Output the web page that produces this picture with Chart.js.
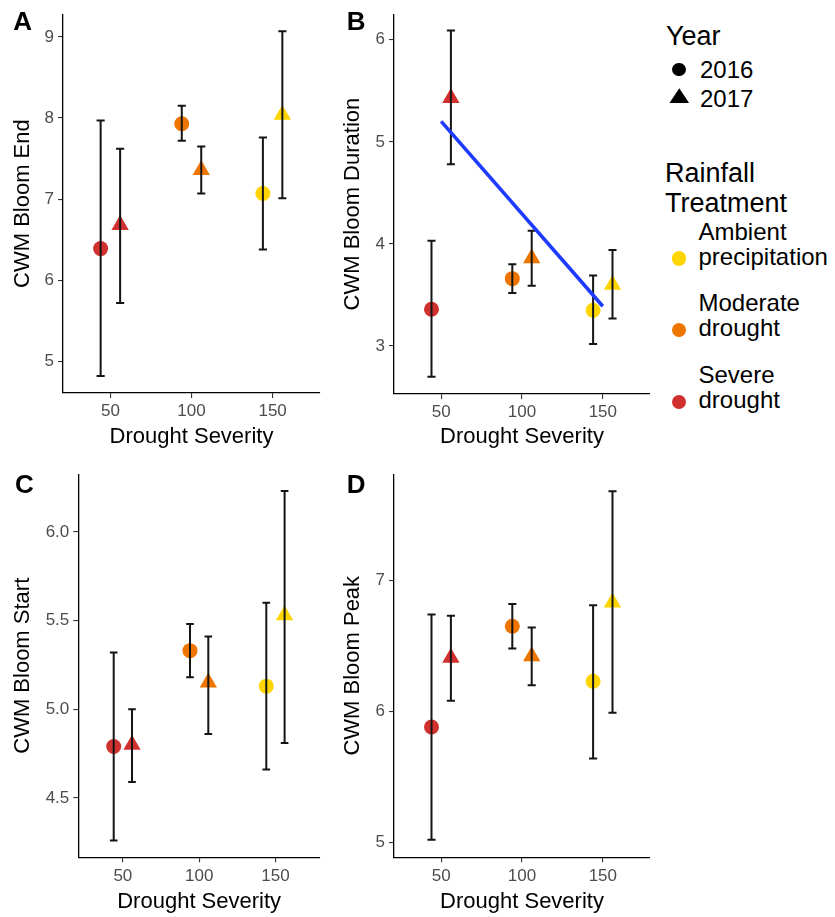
<!DOCTYPE html>
<html>
<head>
<meta charset="utf-8">
<script src="https://cdn.jsdelivr.net/npm/chart.js@4/dist/chart.umd.min.js"></script>
<style>
  html, body { margin: 0; padding: 0; background: #fff; }
  #wrap { position: relative; width: 835px; height: 917px; overflow: hidden;
          font-family: "Liberation Sans", Arial, Helvetica, sans-serif; }
  .panel { position: absolute; }
  .panel canvas { display: block; }
  .lbl { position: absolute; white-space: nowrap; line-height: 1; color: #000; }
  .sym { position: absolute; }
</style>
</head>
<body>
<div id="wrap">
  <div class="panel" style="left:0;top:0"><canvas id="cEnd" width="330" height="460"></canvas></div>
  <div class="panel" style="left:330px;top:0"><canvas id="cDuration" width="330" height="460"></canvas></div>
  <div class="panel" style="left:0;top:460px"><canvas id="cStart" width="330" height="457"></canvas></div>
  <div class="panel" style="left:330px;top:460px"><canvas id="cPeak" width="330" height="457"></canvas></div>
</div>
<script>
// Treatment groups: drought severity (2016 dodged left, 2017 dodged right)
const severity  = [44, 56, 94, 106, 144, 156];
const treatment = ['Severe drought', 'Severe drought', 'Moderate drought', 'Moderate drought',
                   'Ambient precipitation', 'Ambient precipitation'];
const year      = ['2016', '2017', '2016', '2017', '2016', '2017'];
const severityTicks = [50, 100, 150];

// Community-weighted mean bloom end (mean, lower and upper error)
const endMean = [6.39, 6.68, 7.93, 7.36, 7.07, 8.04];
const endLow  = [4.82, 5.72, 7.72, 7.07, 6.38, 7.01];
const endHigh = [7.97, 7.62, 8.15, 7.65, 7.76, 9.07];
const endTicks = [5, 6, 7, 8, 9];

// Bloom duration
const durationMean = [3.36, 5.43, 3.66, 3.86, 3.35, 3.60];
const durationLow  = [2.70, 4.78, 3.52, 3.59, 3.02, 3.27];
const durationHigh = [4.03, 6.09, 3.80, 4.13, 3.69, 3.94];
const durationTicks = [3, 4, 5, 6];
// Linear trend of duration on severity
const trendSeverity = [50, 150];
const trendDuration = [5.20, 3.39];

// Bloom start
const startMean = [4.79, 4.80, 5.33, 5.15, 5.13, 5.53];
const startLow  = [4.26, 4.59, 5.18, 4.86, 4.66, 4.81];
const startHigh = [5.32, 5.00, 5.48, 5.41, 5.60, 6.23];
const startTicks = [4.5, 5.0, 5.5, 6.0];

// Bloom peak
const peakMean = [5.88, 6.41, 6.65, 6.42, 6.23, 6.83];
const peakLow  = [5.02, 6.08, 6.48, 6.20, 5.64, 5.99];
const peakHigh = [6.74, 6.73, 6.82, 6.64, 6.81, 7.68];
const peakTicks = [5, 6, 7];

// Legend entries
const yearLegend = ['2016', '2017'];
const treatmentLegend = [['Ambient', 'precipitation'], ['Moderate', 'drought'], ['Severe', 'drought']];
const treatmentOrder = ['Ambient precipitation', 'Moderate drought', 'Severe drought'];

// Styles
const FONT = '"Liberation Sans", Arial, Helvetica, sans-serif';
const colours = {
  'Ambient precipitation': '#FFD500',
  'Moderate drought': '#EE7600',
  'Severe drought': '#D0302E'
};
const shapes = { '2016': 'circle', '2017': 'triangle' };
const radii  = { '2016': 7.5, '2017': 10 };
const CAP_HALF = 2.5;   // error-bar cap half width, in severity units

const errorBars = {
  id: 'errorBars',
  afterDatasetDraw(chart, args) {
    const ds = chart.data.datasets[args.index];
    if (!ds.errLow) return;
    const ctx = chart.ctx, xs = chart.scales.x, ys = chart.scales.y;
    ctx.save();
    ctx.strokeStyle = '#141414';
    ctx.lineWidth = 2;
    ds.data.forEach((p, i) => {
      const x = xs.getPixelForValue(p.x);
      const x0 = xs.getPixelForValue(p.x - CAP_HALF);
      const x1 = xs.getPixelForValue(p.x + CAP_HALF);
      const yl = ys.getPixelForValue(ds.errLow[i]);
      const yh = ys.getPixelForValue(ds.errHigh[i]);
      ctx.beginPath();
      ctx.moveTo(x, yl); ctx.lineTo(x, yh);
      ctx.moveTo(x0, yl); ctx.lineTo(x1, yl);
      ctx.moveTo(x0, yh); ctx.lineTo(x1, yh);
      ctx.stroke();
    });
    ctx.restore();
  }
};

function makePanel(id, cfg) {
  const datasets = [{
    type: 'scatter',
    order: 2,
    data: severity.map((s, i) => ({ x: s, y: cfg.mean[i] })),
    errLow: cfg.low,
    errHigh: cfg.high,
    pointStyle: year.map(y => shapes[y]),
    pointRadius: year.map(y => radii[y]),
    backgroundColor: treatment.map(t => colours[t]),
    borderWidth: 0,
    borderColor: 'rgba(0,0,0,0)'
  }];
  if (cfg.trendX) {
    datasets.push({
      type: 'line',
      order: 1,
      data: cfg.trendX.map((x, i) => ({ x: x, y: cfg.trendY[i] })),
      borderColor: '#1F3BFF',
      borderWidth: 3.6,
      pointRadius: 0,
      fill: false,
      tension: 0
    });
  }
  const tickFont = { family: FONT, size: 17 };
  const titleFont = { family: FONT, size: 22 };
  new Chart(document.getElementById(id), {
    data: { datasets },
    plugins: [errorBars],
    options: {
      responsive: false,
      animation: false,
      events: [],
      layout: { padding: cfg.pad },
      plugins: { legend: { display: false }, tooltip: { enabled: false } },
      scales: {
        x: {
          type: 'linear',
          min: 20.8, max: 179.2,
          afterBuildTicks: s => { s.ticks = severityTicks.map(v => ({ value: v })); },
          afterFit: s => { s.height = cfg.xHeight; },
          grid: { display: true, drawOnChartArea: false, drawTicks: true, tickLength: 5,
                  color: '#333333', lineWidth: 1.1 },
          border: { display: true, color: '#000', width: 1.3 },
          ticks: { color: '#4D4D4D', font: tickFont, padding: 3.5, maxRotation: 0, autoSkip: false },
          title: { display: true, text: 'Drought Severity', color: '#000', font: titleFont,
                   padding: { top: 0, bottom: cfg.xTitlePad } }
        },
        y: {
          type: 'linear',
          min: cfg.yMin, max: cfg.yMax,
          afterBuildTicks: s => { s.ticks = cfg.ticks.map(v => ({ value: v })); },
          afterFit: s => { s.width = cfg.yWidth; },
          grid: { display: true, drawOnChartArea: false, drawTicks: true, tickLength: 5,
                  color: '#333333', lineWidth: 1.1 },
          border: { display: true, color: '#000', width: 1.3 },
          ticks: { color: '#4D4D4D', font: tickFont, padding: 4, autoSkip: false,
                   callback: v => v.toFixed(cfg.decimals) },
          title: { display: true, text: cfg.title, color: '#000', font: titleFont,
                   padding: { top: 9.8, bottom: 0 } }
        }
      }
    }
  });
}

makePanel('cEnd', {
  mean: endMean, low: endLow, high: endHigh, ticks: endTicks, decimals: 0,
  yMin: 4.61, yMax: 9.28, title: 'CWM Bloom End',
  pad: { left: 0, top: 10, right: 8, bottom: 0 }, yWidth: 63, xHeight: 67, xTitlePad: 9.4
});
makePanel('cDuration', {
  mean: durationMean, low: durationLow, high: durationHigh, ticks: durationTicks, decimals: 0,
  trendX: trendSeverity, trendY: trendDuration,
  yMin: 2.53, yMax: 6.25, title: 'CWM Bloom Duration',
  pad: { left: 0, top: 10, right: 7, bottom: 0 }, yWidth: 64, xHeight: 66, xTitlePad: 9.4
});
makePanel('cStart', {
  mean: startMean, low: startLow, high: startHigh, ticks: startTicks, decimals: 1,
  yMin: 4.165, yMax: 6.325, title: 'CWM Bloom Start',
  pad: { left: 0, top: 13.3, right: 8.3, bottom: 0 }, yWidth: 78.3, xHeight: 59.7, xTitlePad: 2.1
});
makePanel('cPeak', {
  mean: peakMean, low: peakLow, high: peakHigh, ticks: peakTicks, decimals: 0,
  yMin: 4.886, yMax: 7.81, title: 'CWM Bloom Peak',
  pad: { left: 0, top: 13.3, right: 7, bottom: 0 }, yWidth: 64, xHeight: 59.7, xTitlePad: 2.1
});

// Panel letters and legends as page text
const wrap = document.getElementById('wrap');
function placeText(txt, x, baseline, size, weight) {
  const d = document.createElement('div');
  d.className = 'lbl';
  d.textContent = txt;
  d.style.fontSize = size + 'px';
  d.style.fontWeight = weight || 'normal';
  d.style.left = x + 'px';
  d.style.top = (baseline - 0.8465 * size) + 'px';
  wrap.appendChild(d);
}
function placeDot(cx, cy, d, colour) {
  const e = document.createElement('div');
  e.className = 'sym';
  e.style.cssText += `left:${cx - d / 2}px;top:${cy - d / 2}px;width:${d}px;height:${d}px;` +
                     `border-radius:50%;background:${colour};`;
  wrap.appendChild(e);
}
function placeTriangle(cx, top, w, h, colour) {
  const e = document.createElement('div');
  e.className = 'sym';
  e.style.cssText += `left:${cx - w / 2}px;top:${top}px;width:${w}px;height:${h}px;` +
                     `background:${colour};clip-path:polygon(50% 0,100% 100%,0 100%);`;
  wrap.appendChild(e);
}

placeText('A', 13.3, 30.3, 26, 'bold');
placeText('B', 346.7, 30.3, 26, 'bold');
placeText('C', 15, 493.3, 26, 'bold');
placeText('D', 346.7, 493.3, 26, 'bold');

placeText('Year', 666, 46, 27);
placeText(yearLegend[0], 700, 78.3, 24);
placeText(yearLegend[1], 700, 107.3, 24);
placeDot(679, 69.5, 13.5, '#000');
placeTriangle(679.3, 88.3, 20, 15, '#000');

placeText('Rainfall', 665, 183.3, 27);
placeText('Treatment', 665, 213.3, 27);
treatmentLegend.forEach((lines, k) => {
  const base = 240 + k * 71.7;
  placeText(lines[0], 698.5, base, 24);
  placeText(lines[1], 698.5, base + 25, 24);
  placeDot(679, base + 18.5, 14.5, colours[treatmentOrder[k]]);
});
</script>
</body>
</html>
